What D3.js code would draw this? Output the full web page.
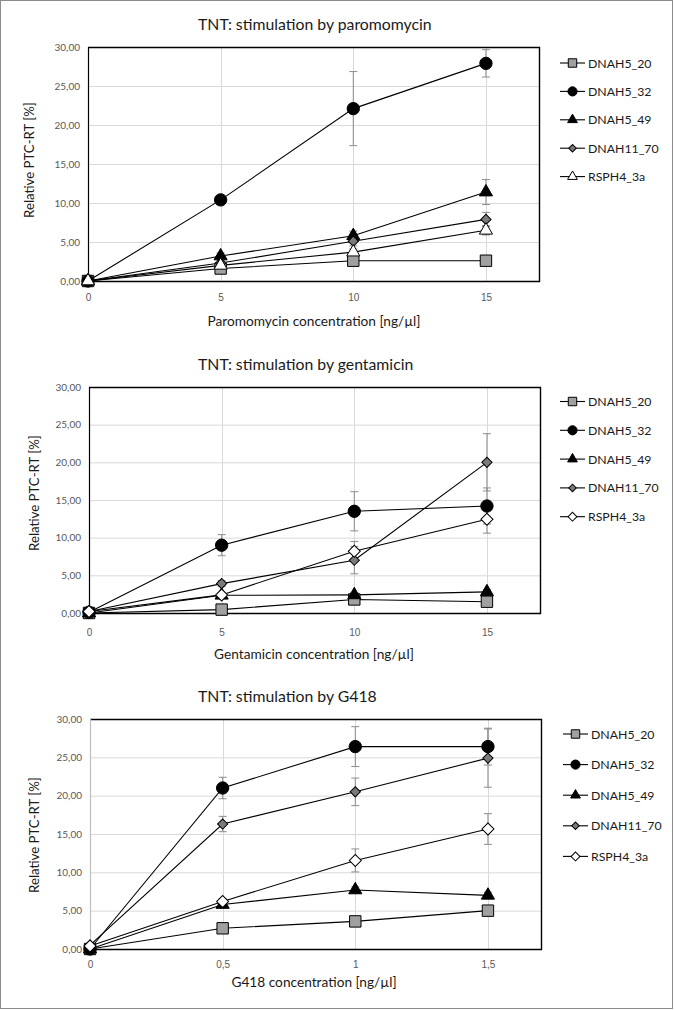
<!DOCTYPE html>
<html><head><meta charset="utf-8">
<script src="https://cdn.jsdelivr.net/npm/d3@7"></script>
<style>html,body{margin:0;padding:0;background:#fff;}svg{display:block;font-family:Lato,"Open Sans",sans-serif;}</style>
</head><body>
<script>
// ---------- data ----------
const seriesNames = ["DNAH5_20", "DNAH5_32", "DNAH5_49", "DNAH11_70", "RSPH4_3a"];
const yTickValues = [0, 5, 10, 15, 20, 25, 30];

// Panel 1: paromomycin
const paroTitle = "TNT: stimulation by paromomycin";
const paroXLabel = "Paromomycin concentration [ng/µl]";
const paroX = [0, 5, 10, 15];
const paroXTickLabels = ["0", "5", "10", "15"];
const paroDNAH5_20 = [0, 1.6, 2.6, 2.6];
const paroDNAH5_20Err = [0, 0.3, 0.3, 0.3];
const paroDNAH5_32 = [0, 10.4, 22.1, 27.9];
const paroDNAH5_32Err = [0, 0.5, 4.75, 1.75];
const paroDNAH5_49 = [0, 3.2, 5.8, 11.4];
const paroDNAH5_49Err = [0, 0.4, 0.6, 1.6];
const paroDNAH11_70 = [0, 2.3, 5.1, 7.9];
const paroDNAH11_70Err = [0, 0.3, 0.6, 0.9];
const paroRSPH4_3a = [0, 2.0, 3.7, 6.5];
const paroRSPH4_3aErr = [0, 0.3, 0.4, 0.6];

// Panel 2: gentamicin
const gentTitle = "TNT: stimulation by gentamicin";
const gentXLabel = "Gentamicin concentration [ng/µl]";
const gentX = [0, 5, 10, 15];
const gentXTickLabels = ["0", "5", "10", "15"];
const gentDNAH5_20 = [0, 0.45, 1.8, 1.5];
const gentDNAH5_20Err = [0, 0.2, 0.3, 0.3];
const gentDNAH5_32 = [0.1, 9.0, 13.5, 14.2];
const gentDNAH5_32Err = [0, 1.4, 2.6, 2.4];
const gentDNAH5_49 = [0, 2.35, 2.4, 2.8];
const gentDNAH5_49Err = [0, 0.3, 0.3, 0.3];
const gentDNAH11_70 = [0.2, 3.9, 7.0, 20.0];
const gentDNAH11_70Err = [0, 0.4, 1.8, 3.8];
const gentRSPH4_3a = [0.2, 2.4, 8.2, 12.45];
const gentRSPH4_3aErr = [0, 0.3, 1.3, 1.85];

// Panel 3: G418
const g418Title = "TNT: stimulation by G418";
const g418XLabel = "G418 concentration [ng/µl]";
const g418X = [0, 0.5, 1, 1.5];
const g418XTickLabels = ["0", "0,5", "1", "1,5"];
const g418DNAH5_20 = [0, 2.7, 3.6, 5.0];
const g418DNAH5_20Err = [0, 0.2, 0.3, 0.3];
const g418DNAH5_32 = [0, 21.0, 26.4, 26.4];
const g418DNAH5_32Err = [0, 1.4, 2.6, 2.4];
const g418DNAH5_49 = [0, 5.8, 7.7, 7.0];
const g418DNAH5_49Err = [0, 0.3, 0.4, 0.4];
const g418DNAH11_70 = [0.5, 16.3, 20.5, 24.9];
const g418DNAH11_70Err = [0, 1.0, 1.8, 3.8];
const g418RSPH4_3a = [0.4, 6.2, 11.55, 15.65];
const g418RSPH4_3aErr = [0, 0.4, 1.5, 2.0];

// ---------- layout / styles ----------
const W = 674, H = 1010;
const svg = d3.select("body").append("svg").attr("width", W).attr("height", H);
svg.append("rect").attr("x", 0.5).attr("y", 0.5).attr("width", W - 2).attr("height", H - 2)
  .attr("fill", "#fff").attr("stroke", "#8c8c8c");

const symbolStyles = {
  sqGray:   {type: d3.symbolSquare,   size: 130, fill: "#a0a0a0", rot: 0},
  circle:   {type: d3.symbolCircle,   size: 120, fill: "#000", rot: 0},
  triBlack: {type: d3.symbolTriangle, size: 75,  fill: "#000", rot: 0},
  diaGray:  {type: d3.symbolSquare,   size: 52,  fill: "#7a7a7a", rot: 45},
  triOpen:  {type: d3.symbolTriangle, size: 75,  fill: "#fff", rot: 0},
  diaOpen:  {type: d3.symbolSquare,   size: 72,  fill: "#fff", rot: 45}
};

const panels = [
  {title: paroTitle, xLabel: paroXLabel, x: paroX, xTicks: paroXTickLabels, xMax: 17,
   ys: [paroDNAH5_20, paroDNAH5_32, paroDNAH5_49, paroDNAH11_70, paroRSPH4_3a],
   errs: [paroDNAH5_20Err, paroDNAH5_32Err, paroDNAH5_49Err, paroDNAH11_70Err, paroRSPH4_3aErr],
   syms: ["sqGray", "circle", "triBlack", "diaGray", "triOpen"],
   L: 88, R: 539, T: 47, B: 281, titleY: 30, tickY: 301, xLabY: 326, yLabX: 30, yLabY: 160,
   legX: 560, legTop: 63, legStep: 28.4, leftFrame: "#000"},
  {title: gentTitle, xLabel: gentXLabel, x: gentX, xTicks: gentXTickLabels, xMax: 17,
   ys: [gentDNAH5_20, gentDNAH5_32, gentDNAH5_49, gentDNAH11_70, gentRSPH4_3a],
   errs: [gentDNAH5_20Err, gentDNAH5_32Err, gentDNAH5_49Err, gentDNAH11_70Err, gentRSPH4_3aErr],
   syms: ["sqGray", "circle", "triBlack", "diaGray", "diaOpen"],
   L: 89, R: 540, T: 387, B: 613, titleY: 370, tickY: 636, xLabY: 659, yLabX: 35, yLabY: 493,
   legX: 560, legTop: 401.5, legStep: 28.8, leftFrame: "#000"},
  {title: g418Title, xLabel: g418XLabel, x: g418X, xTicks: g418XTickLabels, xMax: 1.7,
   ys: [g418DNAH5_20, g418DNAH5_32, g418DNAH5_49, g418DNAH11_70, g418RSPH4_3a],
   errs: [g418DNAH5_20Err, g418DNAH5_32Err, g418DNAH5_49Err, g418DNAH11_70Err, g418RSPH4_3aErr],
   syms: ["sqGray", "circle", "triBlack", "diaGray", "diaOpen"],
   L: 90, R: 541, T: 719, B: 949, titleY: 702, tickY: 968, xLabY: 987, yLabX: 35, yLabY: 835,
   legX: 563, legTop: 734, legStep: 30.6, leftFrame: "#bfbfbf"}
];

function symPath(key, scale) {
  const s = symbolStyles[key];
  return d3.symbol().type(s.type).size(s.size * scale)();
}

panels.forEach(p => {
  const g = svg.append("g");
  const x = d3.scaleLinear().domain([0, p.xMax]).range([p.L, p.R]);
  const y = d3.scaleLinear().domain([0, 30]).range([p.B, p.T]);

  // gridlines
  g.append("g").selectAll("line").data(yTickValues.slice(1, -1)).join("line")
    .attr("x1", p.L).attr("x2", p.R).attr("y1", d => y(d) + 0.5).attr("y2", d => y(d) + 0.5)
    .attr("stroke", "#d9d9d9");
  g.append("g").selectAll("line").data(p.x.slice(1)).join("line")
    .attr("x1", d => Math.round(x(d)) + 0.5).attr("x2", d => Math.round(x(d)) + 0.5)
    .attr("y1", p.T).attr("y2", p.B).attr("stroke", "#d9d9d9");

  // frame
  g.append("path").attr("d", `M${p.L},${p.T + 0.5}H${p.R + 0.5}V${p.B + 0.5}H${p.L}`)
    .attr("fill", "none").attr("stroke", "#000").attr("stroke-width", 1.4);
  g.append("line").attr("x1", p.L + 0.5).attr("x2", p.L + 0.5).attr("y1", p.T).attr("y2", p.B)
    .attr("stroke", p.leftFrame).attr("stroke-width", 1.2);

  // y axis tick labels
  const yAxis = d3.axisLeft(y).tickValues(yTickValues).tickSize(0).tickPadding(8)
    .tickFormat(d => d3.format(".2f")(d).replace(".", ","));
  const ya = g.append("g").attr("transform", `translate(${p.L},0)`).call(yAxis);
  ya.select(".domain").remove();
  ya.selectAll("text").attr("font-size", 10).attr("fill", "#595959").attr("font-family", "Lato");

  // x axis tick labels
  const xAxis = d3.axisBottom(x).tickValues(p.x).tickSize(0)
    .tickFormat((d, i) => p.xTicks[i]);
  const xa = g.append("g").attr("transform", `translate(0,${p.tickY - 10})`).call(xAxis);
  xa.select(".domain").remove();
  xa.selectAll("text").attr("font-size", 10).attr("fill", "#595959").attr("dy", 0).attr("y", 10);

  // titles
  g.append("text").attr("x", 198).attr("y", p.titleY).attr("font-size", 15.8).attr("fill", "#1a1a1a")
    .text(p.title);
  g.append("text").attr("x", 314).attr("y", p.xLabY).attr("text-anchor", "middle")
    .attr("font-size", 13.7).attr("fill", "#1a1a1a").text(p.xLabel);
  g.append("text").attr("transform", `translate(${p.yLabX + 4},${p.yLabY}) rotate(-90)`)
    .attr("text-anchor", "middle").attr("font-size", 13.2).attr("fill", "#1a1a1a").text("Relative PTC-RT [%]");

  // error bars
  p.ys.forEach((vals, si) => {
    const e = p.errs[si];
    vals.forEach((v, i) => {
      if (!e[i]) return;
      const cx = x(p.x[i]);
      const eg = g.append("g").attr("stroke", "#8c8c8c").attr("stroke-width", 1);
      eg.append("line").attr("x1", cx).attr("x2", cx).attr("y1", y(v - e[i])).attr("y2", y(v + e[i]));
      [v - e[i], v + e[i]].forEach(t => eg.append("line").attr("x1", cx - 4).attr("x2", cx + 4)
        .attr("y1", y(t)).attr("y2", y(t)));
    });
  });

  // lines + markers
  const line = d3.line().x((d, i) => x(p.x[i])).y(d => y(d));
  p.ys.forEach(vals => {
    g.append("path").datum(vals).attr("d", line).attr("fill", "none")
      .attr("stroke", "#000").attr("stroke-width", 1.1);
  });
  p.ys.forEach((vals, si) => {
    const s = symbolStyles[p.syms[si]];
    g.append("g").selectAll("path").data(vals).join("path")
      .attr("d", symPath(p.syms[si], 1))
      .attr("transform", (d, i) => `translate(${x(p.x[i])},${y(d)}) rotate(${s.rot})`)
      .attr("fill", s.fill).attr("stroke", "#000").attr("stroke-width", 1);
  });

  // legend
  seriesNames.forEach((name, si) => {
    const ly = p.legTop + si * p.legStep;
    g.append("line").attr("x1", p.legX).attr("x2", p.legX + 25).attr("y1", ly).attr("y2", ly)
      .attr("stroke", "#000").attr("stroke-width", 1.1);
    const s = symbolStyles[p.syms[si]];
    g.append("path").attr("d", symPath(p.syms[si], 0.55))
      .attr("transform", `translate(${p.legX + 12.5},${ly}) rotate(${s.rot})`)
      .attr("fill", s.fill).attr("stroke", "#000");
    g.append("text").attr("x", p.legX + 28).attr("y", ly + 4.5).attr("font-size", 12.3)
      .attr("fill", "#1a1a1a").text(name);
  });
});
</script>
</body></html>
